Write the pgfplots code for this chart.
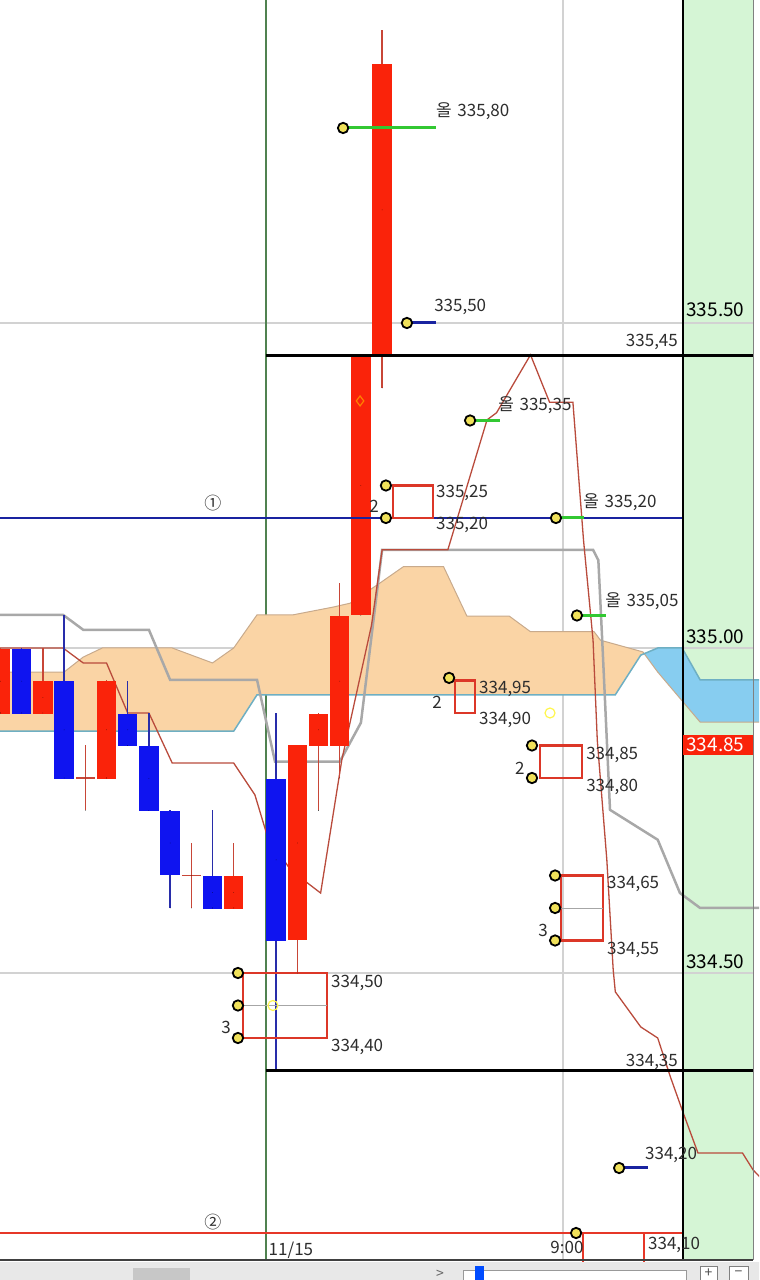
\documentclass[border=0pt]{standalone}
\usepackage{fontspec}
\setmainfont{Noto Sans CJK KR}
\usepackage{pgfplots}
\pgfplotsset{compat=1.18}
\usepackage{pgfplotstable}

\definecolor{cred}{RGB}{250,35,10}
\definecolor{cblue}{RGB}{15,20,240}
\definecolor{credwick}{RGB}{200,70,55}
\definecolor{cbluewick}{RGB}{40,45,170}
\definecolor{cgrid}{RGB}{210,210,210}
\definecolor{cpeach}{RGB}{250,212,165}
\definecolor{csky}{RGB}{135,205,240}
\definecolor{cteal}{RGB}{110,175,195}
\definecolor{cedge}{RGB}{200,170,140}
\definecolor{cgreyline}{RGB}{168,168,168}
\definecolor{cthin}{RGB}{185,75,60}
\definecolor{cnavy}{RGB}{25,35,160}
\definecolor{cline2}{RGB}{230,55,40}
\definecolor{cbox}{RGB}{220,55,40}
\definecolor{cgreen}{RGB}{50,200,50}
\definecolor{cpanel}{RGB}{213,245,213}
\definecolor{cyellow}{RGB}{240,225,90}
\definecolor{cdayline}{RGB}{80,130,80}
\definecolor{ctext}{RGB}{45,45,45}
\definecolor{cstrip}{RGB}{232,232,232}

% candles: x = bar index
\pgfplotstableread{
x O C H L
0 334.90 335.00 335.00 334.90
2 334.90 334.95 335.00 334.90
5 334.80 334.95 334.95 334.80
11 334.60 334.65 334.70 334.60
14 334.55 334.85 334.85 334.50
15 334.85 334.90 334.90 334.75
16 334.85 335.05 335.10 334.80
17 335.05 335.45 335.45 335.05
18 335.45 335.90 335.95 335.40
}\redc
\pgfplotstableread{
x O C H L
4 334.80 334.80 334.85 334.75
9 334.65 334.65 334.70 334.60
}\redd
\pgfplotstableread{
x O C H L
1 335.00 334.90 335.00 334.90
3 334.95 334.80 335.05 334.80
6 334.90 334.85 334.95 334.85
7 334.85 334.75 334.90 334.75
8 334.75 334.65 334.75 334.60
10 334.65 334.60 334.75 334.60
13 334.80 334.55 334.90 334.35
}\bluec

% cloud spans
\pgfplotstableread{
x y
-0.5 334.963
1.5 334.963
3 334.963
3.9 334.986
4.8 335.000
8.1 335.000
10 334.977
11 335.000
12.1 335.051
13.8 335.051
15.7 335.063
16.5 335.069
17.9 335.100
19 335.125
20.9 335.125
22 335.049
24 335.049
25 335.025
28 335.025
28.3 335.012
30.3 334.994
31 334.963
33 334.886
36 334.886
}\spanA
\pgfplotstableread{
x y
-0.5 334.872
11 334.872
12.1 334.928
29 334.928
30.2 334.989
31 335.000
32.15 335.000
33 334.951
36 334.951
}\spanB

% thin red line
\pgfplotstableread{
x y
-0.5 335.000
2.95 335.000
3.9 334.977
5 334.977
6 334.900
7 334.900
8.1 334.823
11 334.823
12 334.774
12.6 334.709
13.7 334.658
15.1 334.623
16.1 334.828
17.5 335.035
18 335.151
21.1 335.151
22.95 335.351
23.4 335.362
25 335.451
25.9 335.378
27 335.378
27.5 335.166
27.95 335.012
28.15 334.858
28.6 334.674
28.9 334.505
29 334.471
30.2 334.417
31 334.400
31.6 334.340
32.2 334.285
32.9 334.223
35 334.223
35.5 334.197
36 334.180
}\tenkan

% grey line
\pgfplotstableread{
x y
-0.5 335.051
2.95 335.051
3.9 335.028
7 335.028
8 334.951
12.1 334.951
12.95 334.825
16 334.825
17 334.885
18 335.151
27.95 335.151
28.2 335.135
28.4 335.000
28.75 334.751
31 334.705
32.05 334.623
33 334.600
36 334.600
}\kijun

\newcommand\lbl{\fontsize{17}{17}\selectfont\color{ctext}}
\newcommand\plbl{\fontsize{19}{19}\selectfont}

\pgfplotsset{
  nomark/.style={only marks, mark=*, mark size=0.01pt, mark options={draw=none, fill=none}},
}

\begin{document}
\begin{tikzpicture}
\begin{axis}[name=ax,
  width=759pt, height=1280pt, scale only axis,
  xmin=-0.024, xmax=35.778, ymin=334.02769, ymax=335.99692,
  hide axis, clip=true]

% right panel
\addplot[fill=cpanel, draw=none] coordinates {(32.19,334.0585) (35.5,334.0585) (35.5,336.1) (32.19,336.1)} --cycle;

% grid
\addplot[cgrid, line width=2.5pt] coordinates {(-1,335.5) (35.5,335.5)};
\addplot[cgrid, line width=2.5pt] coordinates {(-1,335.0) (35.5,335.0)};
\addplot[cgrid, line width=2.5pt] coordinates {(-1,334.5) (35.5,334.5)};
\addplot[cgrid, line width=2pt] coordinates {(26.53,334.0585) (26.53,336.1)};
\addplot[cdayline, line width=1.3pt] coordinates {(12.52,334.0585) (12.52,336.1)};

% cloud (orange part up to the twist, blue part after it)
\addplot[fill=cpeach, draw=none] coordinates {
(-0.5,334.963) (1.5,334.963) (3,334.963) (3.9,334.986) (4.8,335.000) (8.1,335.000) (10,334.977)
(11,335.000) (12.1,335.051) (13.8,335.051) (15.7,335.063) (16.5,335.069) (17.9,335.100) (19,335.125)
(20.9,335.125) (22,335.049) (24,335.049) (25,335.025) (28,335.025) (28.3,335.012) (30.3,334.994)
(30.362,334.991) (30.2,334.989) (29,334.928) (12.1,334.928) (11,334.872) (-0.5,334.872)} --cycle;
\addplot[fill=csky, draw=none] coordinates {
(30.362,334.991) (31,335.000) (32.15,335.000) (33,334.951) (36,334.951)
(36,334.886) (33,334.886) (31,334.963)} --cycle;
\addplot[cedge, line width=1pt] table {\spanA};
\addplot[cteal, line width=1.5pt] table {\spanB};

% grey and thin red lines
\addplot[cgreyline, line width=2.5pt] table {\kijun};
\addplot[cthin, line width=1.3pt] table {\tenkan};

% candles: wicks
\addplot[nomark, error bars/.cd, y dir=plus, y explicit, error mark=none,
  error bar style={line width=1.5pt, credwick}]
  table[x=x, y=L, y error plus expr=\thisrow{H}-\thisrow{L}] {\redc};
\addplot[nomark, error bars/.cd, y dir=plus, y explicit, error mark=none,
  error bar style={line width=1.5pt, credwick}]
  table[x=x, y=L, y error plus expr=\thisrow{H}-\thisrow{L}] {\redd};
\addplot[nomark, error bars/.cd, y dir=plus, y explicit, error mark=none,
  error bar style={line width=1.5pt, cbluewick}]
  table[x=x, y=L, y error plus expr=\thisrow{H}-\thisrow{L}] {\bluec};
% doji
\addplot[nomark, error bars/.cd, x dir=both, x explicit, error mark=none,
  error bar style={line width=1.5pt, credwick}]
  table[x=x, y=O, x error expr=0.45] {\redd};
% bodies
\addplot[nomark, error bars/.cd, y dir=both, y explicit, error mark=none,
  error bar style={line width=19.5pt, cred}]
  table[x=x, y expr=(\thisrow{O}+\thisrow{C})/2, y error expr=abs(\thisrow{C}-\thisrow{O})/2] {\redc};
\addplot[nomark, error bars/.cd, y dir=both, y explicit, error mark=none,
  error bar style={line width=19.5pt, cblue}]
  table[x=x, y expr=(\thisrow{O}+\thisrow{C})/2, y error expr=abs(\thisrow{C}-\thisrow{O})/2] {\bluec};

% level lines
\addplot[black, line width=2.2pt] coordinates {(12.52,335.45) (35.5,335.45)};
\addplot[black, line width=2.2pt] coordinates {(12.52,334.35) (35.5,334.35)};
\addplot[cnavy, line width=2.8pt] coordinates {(-1,335.20) (32.19,335.20)};
\addplot[cline2, line width=2.8pt] coordinates {(-1,334.10) (32.19,334.10)};
\addplot[cline2, line width=2.5pt] coordinates {(27.48,334.10) (27.48,334.05)};
\addplot[cline2, line width=2.5pt] coordinates {(30.35,334.10) (30.35,334.05)};

% panel borders
\addplot[black, line width=1.5pt] coordinates {(32.19,334.0585) (32.19,336.1)};
\addplot[gray, line width=1pt] coordinates {(35.5,334.0585) (35.5,336.1)};

% boxes
\addplot[cbox, line width=2.5pt] coordinates {(11.44,334.40) (15.40,334.40) (15.40,334.50) (11.44,334.50)} --cycle;
\addplot[gray!70, line width=0.8pt] coordinates {(11.44,334.45) (15.40,334.45)};
\addplot[cbox, line width=2.5pt] coordinates {(18.51,335.20) (20.40,335.20) (20.40,335.25) (18.51,335.25)} --cycle;
\addplot[cbox, line width=2.5pt] coordinates {(21.44,334.90) (22.38,334.90) (22.38,334.95) (21.44,334.95)} --cycle;
\addplot[cbox, line width=2.5pt] coordinates {(25.45,334.80) (27.43,334.80) (27.43,334.85) (25.45,334.85)} --cycle;
\addplot[cbox, line width=2.5pt] coordinates {(26.44,334.55) (28.42,334.55) (28.42,334.65) (26.44,334.65)} --cycle;
\addplot[gray!70, line width=0.8pt] coordinates {(26.44,334.60) (28.42,334.60)};

% short segments
\addplot[cgreen, line width=3pt] coordinates {(16.16,335.80) (20.54,335.80)};
\addplot[cnavy, line width=3pt] coordinates {(19.17,335.50) (20.54,335.50)};
\addplot[cgreen, line width=3pt] coordinates {(22.15,335.35) (23.56,335.35)};
\addplot[cgreen, line width=3pt] coordinates {(26.20,335.20) (27.52,335.20)};
\addplot[cgreen, line width=3pt] coordinates {(27.19,335.05) (28.56,335.05)};
\addplot[cnavy, line width=3pt] coordinates {(29.18,334.20) (30.54,334.20)};

% small hollow marks
\addplot[only marks, mark=diamond, mark size=5pt, orange, line width=1.2pt] coordinates {(16.96,335.38)};
\addplot[only marks, mark=o, mark size=5pt, yellow!70!white, line width=1.2pt] coordinates {(25.92,334.90) (12.85,334.45)};

% yellow markers
\addplot[only marks, mark=*, mark size=5.2pt, mark options={fill=cyellow, draw=black, line width=1.8pt}] coordinates {
(16.16,335.80) (19.17,335.50) (22.15,335.35) (26.20,335.20) (27.19,335.05) (29.18,334.20) (27.15,334.10)
(11.2,334.50) (11.2,334.45) (11.2,334.40)
(18.18,335.25) (18.18,335.20)
(21.16,334.954)
(25.07,334.85) (25.07,334.80)
(26.16,334.65) (26.16,334.60) (26.16,334.55)};

% bottom strip
\addplot[fill=cstrip, draw=none] coordinates {(-1,334.0560) (36,334.0560) (36,334.0) (-1,334.0)} --cycle;
\addplot[black!75, line width=1.5pt] coordinates {(-1,334.0585) (35.5,334.0585)};
\addplot[fill=black!22, draw=none] coordinates {(6.25,334.046) (8.94,334.046) (8.94,334.0) (6.25,334.0)} --cycle;
\addplot[fill=white, draw=black!40, line width=0.8pt] coordinates {(21.82,334.043) (32.33,334.043) (32.33,334.0) (21.82,334.0)} --cycle;
\addplot[fill=blue!70!cyan, draw=none] coordinates {(22.38,334.049) (22.81,334.049) (22.81,334.0) (22.38,334.0)} --cycle;
\addplot[fill=white, draw=black!50, line width=0.8pt] coordinates {(33.0,334.049) (33.8,334.049) (33.8,334.0) (33.0,334.0)} --cycle;
\addplot[fill=white, draw=black!50, line width=0.8pt] coordinates {(34.36,334.049) (35.26,334.049) (35.26,334.0) (34.36,334.0)} --cycle;

% labels
\node[anchor=west, inner sep=0] at (20.54,335.826) {\lbl 올\,\,335,80};
\node[anchor=west, inner sep=0] at (20.45,335.525) {\lbl 335,50};
\node[anchor=west, inner sep=0] at (23.47,335.374) {\lbl 올\,\,335,35};
\node[anchor=east, inner sep=0] at (31.96,335.471) {\lbl 335,45};
\node[anchor=west, inner sep=0] at (20.54,335.238) {\lbl 335,25};
\node[anchor=west, inner sep=0] at (20.54,335.189) {\lbl 335,20};
\node[inner sep=0] at (17.62,335.218) {\lbl 2};
\node[anchor=west, inner sep=0] at (27.48,335.225) {\lbl 올\,\,335,20};
\node[anchor=west, inner sep=0] at (28.52,335.072) {\lbl 올\,\,335,05};
\node[anchor=west, inner sep=0] at (22.57,334.937) {\lbl 334,95};
\node[anchor=west, inner sep=0] at (22.57,334.889) {\lbl 334,90};
\node[inner sep=0] at (20.59,334.917) {\lbl 2};
\node[anchor=west, inner sep=0] at (27.62,334.835) {\lbl 334,85};
\node[anchor=west, inner sep=0] at (27.62,334.786) {\lbl 334,80};
\node[inner sep=0] at (24.50,334.815) {\lbl 2};
\node[anchor=west, inner sep=0] at (28.61,334.637) {\lbl 334,65};
\node[anchor=west, inner sep=0] at (28.61,334.535) {\lbl 334,55};
\node[inner sep=0] at (25.59,334.566) {\lbl 3};
\node[anchor=west, inner sep=0] at (15.59,334.485) {\lbl 334,50};
\node[anchor=west, inner sep=0] at (15.59,334.386) {\lbl 334,40};
\node[inner sep=0] at (10.64,334.417) {\lbl 3};
\node[anchor=east, inner sep=0] at (31.96,334.363) {\lbl 334,35};
\node[anchor=west, inner sep=0] at (30.40,334.220) {\lbl 334,20};
\node[anchor=west, inner sep=0] at (30.54,334.082) {\lbl 334,10};
\node[inner sep=0] at (26.72,334.078) {\lbl 9:00};
\node[inner sep=0] at (13.70,334.074) {\lbl 11/15};
\node[inner sep=0] at (10.02,335.223) {\lbl ①};
\node[inner sep=0] at (10.02,334.117) {\lbl ②};
\node[inner sep=0] at (20.73,334.036) {\fontsize{14}{14}\selectfont\color{black!60} >};
\node[inner sep=0] at (33.4,334.038) {\fontsize{14}{14}\selectfont\color{black!70} +};
\node[inner sep=0] at (34.81,334.038) {\fontsize{14}{14}\selectfont\color{black!70} −};

% panel labels
\node[inner sep=0] at (33.72,335.52) {\plbl 335.50};
\node[inner sep=0] at (33.72,335.018) {\plbl 335.00};
\node[inner sep=0] at (33.72,334.517) {\plbl 334.50};
\addplot[fill=cred, draw=none] coordinates {(32.19,334.835) (35.5,334.835) (35.5,334.866) (32.19,334.866)} --cycle;
\node[inner sep=0] at (33.72,334.851) {\plbl\color{white} 334.85};
\end{axis}
\pgfresetboundingbox
\path[use as bounding box] (ax.south west) rectangle (ax.north east);
\end{tikzpicture}
\end{document}
